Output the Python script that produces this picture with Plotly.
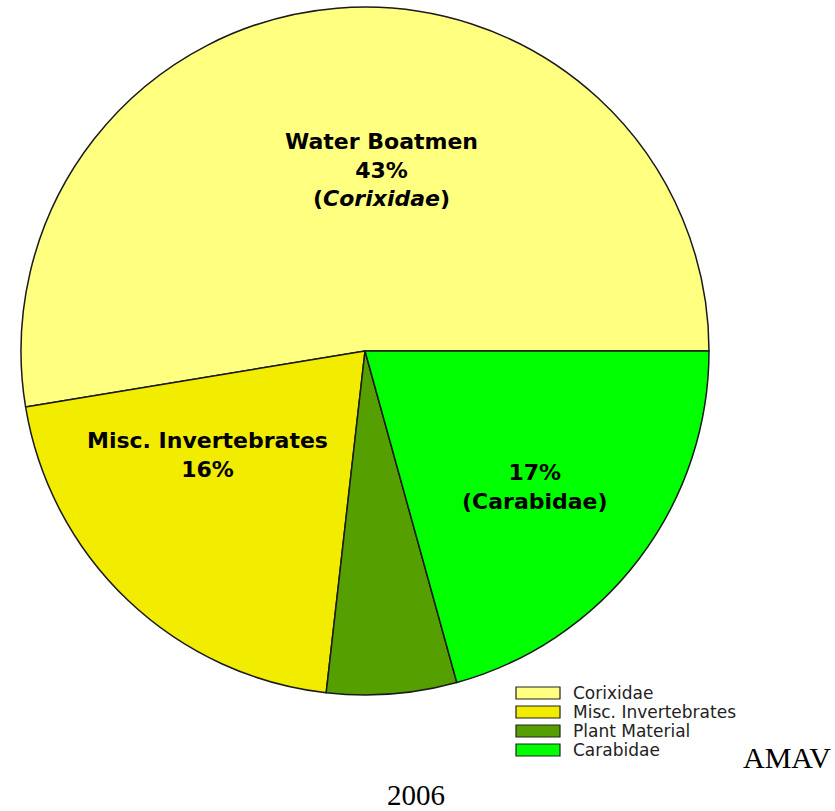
import plotly.graph_objects as go

# Diet composition (slice shares as drawn)
labels = ['Corixidae', 'Misc. Invertebrates', 'Plant Material', 'Carabidae']
values = [52.6, 20.6, 6.1, 20.7]
colors = ['#FFFF80', '#F2EC00', '#55A000', '#00FF00']

# text printed on the slices
slice_text = ['Water Boatmen<br>43%<br>(<i>Corixidae</i>)',
              'Misc. Invertebrates<br>16%',
              '',
              '17%<br>(Carabidae)']
# where the slice text sits (window pixels)
text_pos = [(381, 170), (207, 455), None, (535, 487)]

W, H = 835, 811


def px(x, y):
    """Convert window pixel coordinates to paper coordinates."""
    return x / W, 1 - y / H


cx, cy, r = 365, 351, 344
dx0, dy1 = px(cx - r, cy - r)
dx1, dy0 = px(cx + r, cy + r)

# counterclockwise pies in plotly start the first slice at rotation + its angle,
# so shift back by the first slice to make it begin at 3 o'clock
first_angle = values[0] / sum(values) * 360

fig = go.Figure(go.Pie(
    labels=labels,
    values=values,
    sort=False,
    direction='counterclockwise',
    rotation=90 - first_angle,
    marker=dict(colors=colors, line=dict(color='#1a1a1a', width=1.5)),
    textinfo='none',
    hoverinfo='label+percent',
    showlegend=False,
    domain=dict(x=[max(dx0, 0), min(dx1, 1)], y=[max(dy0, 0), min(dy1, 1)]),
))

annotations = []
for txt, pos in zip(slice_text, text_pos):
    if not txt:
        continue
    x, y = px(*pos)
    annotations.append(dict(
        x=x, y=y, xref='paper', yref='paper', text=txt, showarrow=False,
        xanchor='center', yanchor='middle',
        font=dict(family='DejaVu Sans', size=22, color='black', weight='bold'),
    ))

# legend drawn by hand to get the wide boxes
shapes = []
for i, (lab, col) in enumerate(zip(labels, colors)):
    top = 687 + i * 19
    x0, y0 = px(516, top)
    x1, y1 = px(560, top + 12)
    shapes.append(dict(type='rect', xref='paper', yref='paper', x0=x0, y0=y1, x1=x1, y1=y0,
                       fillcolor=col, line=dict(color='#222222', width=1.2)))
    tx, ty = px(571, top + 6)
    annotations.append(dict(
        x=tx, y=ty, xref='paper', yref='paper', text=lab, showarrow=False,
        xanchor='left', yanchor='middle',
        font=dict(family='DejaVu Sans', size=17, color='#222222'),
    ))

x, y = px(787, 757)
annotations.append(dict(x=x, y=y, xref='paper', yref='paper', text='AMAV', showarrow=False,
                        xanchor='center', yanchor='middle',
                        font=dict(family='Liberation Serif', size=30, color='black')))
x, y = px(416, 795)
annotations.append(dict(x=x, y=y, xref='paper', yref='paper', text='2006', showarrow=False,
                        xanchor='center', yanchor='middle',
                        font=dict(family='Liberation Serif', size=29, color='black')))

fig.update_layout(
    width=W,
    height=H,
    margin=dict(l=0, r=0, t=0, b=0),
    paper_bgcolor='white',
    plot_bgcolor='white',
    annotations=annotations,
    shapes=shapes,
)

# drop the page's default body margin so the figure fills the window exactly
fig.write_html("out.html", config={'displayModeBar': False},
               post_script="document.body.style.margin = '0';")
